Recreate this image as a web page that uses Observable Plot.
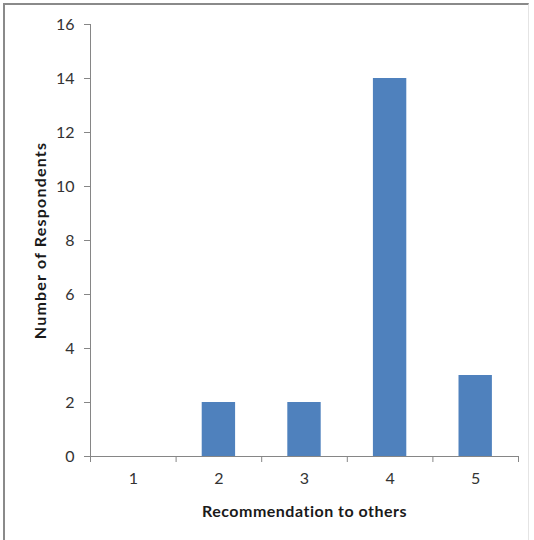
<!DOCTYPE html>
<html>
<head>
<meta charset="utf-8">
<script src="https://cdn.jsdelivr.net/npm/d3@7"></script>
<script src="https://cdn.jsdelivr.net/npm/@observablehq/plot@0.6"></script>
<style>
  html, body { margin: 0; padding: 0; background: #fff; }
  #wrap { position: relative; width: 534px; height: 540px; overflow: hidden; }
  #frame {
    position: absolute; left: 3px; top: 3px; width: 526px; height: 540px;
    border-left: 2px solid #8a8a8a; border-top: 2px solid #8a8a8a;
    border-right: 1px solid #e4e4e4; box-sizing: border-box; pointer-events: none;
  }
  #chart svg { display: block; }
  g[aria-label="x-axis tick label"] text, g[aria-label="y-axis tick label"] text {
    font-size: 16px;
  }
  g[aria-label="x-axis label"] text, g[aria-label="y-axis label"] text {
    font-weight: bold; fill: #1a1a1a; font-size: 16px; letter-spacing: 0.5px;
  }
  g[aria-label="y-axis label"] text { letter-spacing: 1.2px; }
</style>
</head>
<body>
<div id="wrap">
  <div id="chart"></div>
  <div id="frame"></div>
</div>
<script>
// Survey: how likely respondents are to recommend, scored 1–5
const scores = [1, 2, 3, 4, 5];
const respondents = [0, 2, 2, 14, 3];
const yTicks = [0, 2, 4, 6, 8, 10, 12, 14, 16];
const xTitle = "Recommendation to others";
const yTitle = "Number of Respondents";

const data = scores.map((s, i) => ({score: s, count: respondents[i]}));
const halfBar = 0.195;               // bar width as a fraction of one category slot
const boundaries = [0.5, 1.5, 2.5, 3.5, 4.5, 5.5];
const axisGray = "#868686";

const chart = Plot.plot({
  width: 534,
  height: 540,
  marginLeft: 90,
  marginRight: 16,
  marginTop: 24,
  marginBottom: 84,
  style: {fontFamily: "Lato, 'Open Sans', sans-serif", fontSize: "16px", color: "#333", background: "transparent"},
  x: {domain: [0.5, 5.5]},
  y: {domain: [0, 16]},
  marks: [
    Plot.rectY(data, {
      x1: d => d.score - halfBar,
      x2: d => d.score + halfBar,
      y: "count",
      fill: "#4F81BD"
    }),
    Plot.ruleY([0], {stroke: axisGray, strokeWidth: 1}),
    Plot.ruleX([0.5], {stroke: axisGray, strokeWidth: 1}),
    // y axis: ticks, numbers and title
    Plot.axisY({
      ticks: yTicks, tickSize: 6, tickPadding: 10, stroke: axisGray, fontSize: 16,
      label: yTitle, labelAnchor: "center", labelArrow: "none", labelOffset: 56
    }),
    // x axis: tick marks between categories
    Plot.axisX({ticks: boundaries, tickSize: 6, tickFormat: () => "", stroke: axisGray, label: null}),
    // x axis: category numbers and title
    Plot.axisX({
      ticks: scores, tickSize: 0, tickPadding: 16, tickFormat: d => String(d), fontSize: 16,
      label: xTitle, labelAnchor: "center", labelArrow: "none", labelOffset: 60
    })
  ]
});
document.getElementById("chart").append(chart);
</script>
</body>
</html>
